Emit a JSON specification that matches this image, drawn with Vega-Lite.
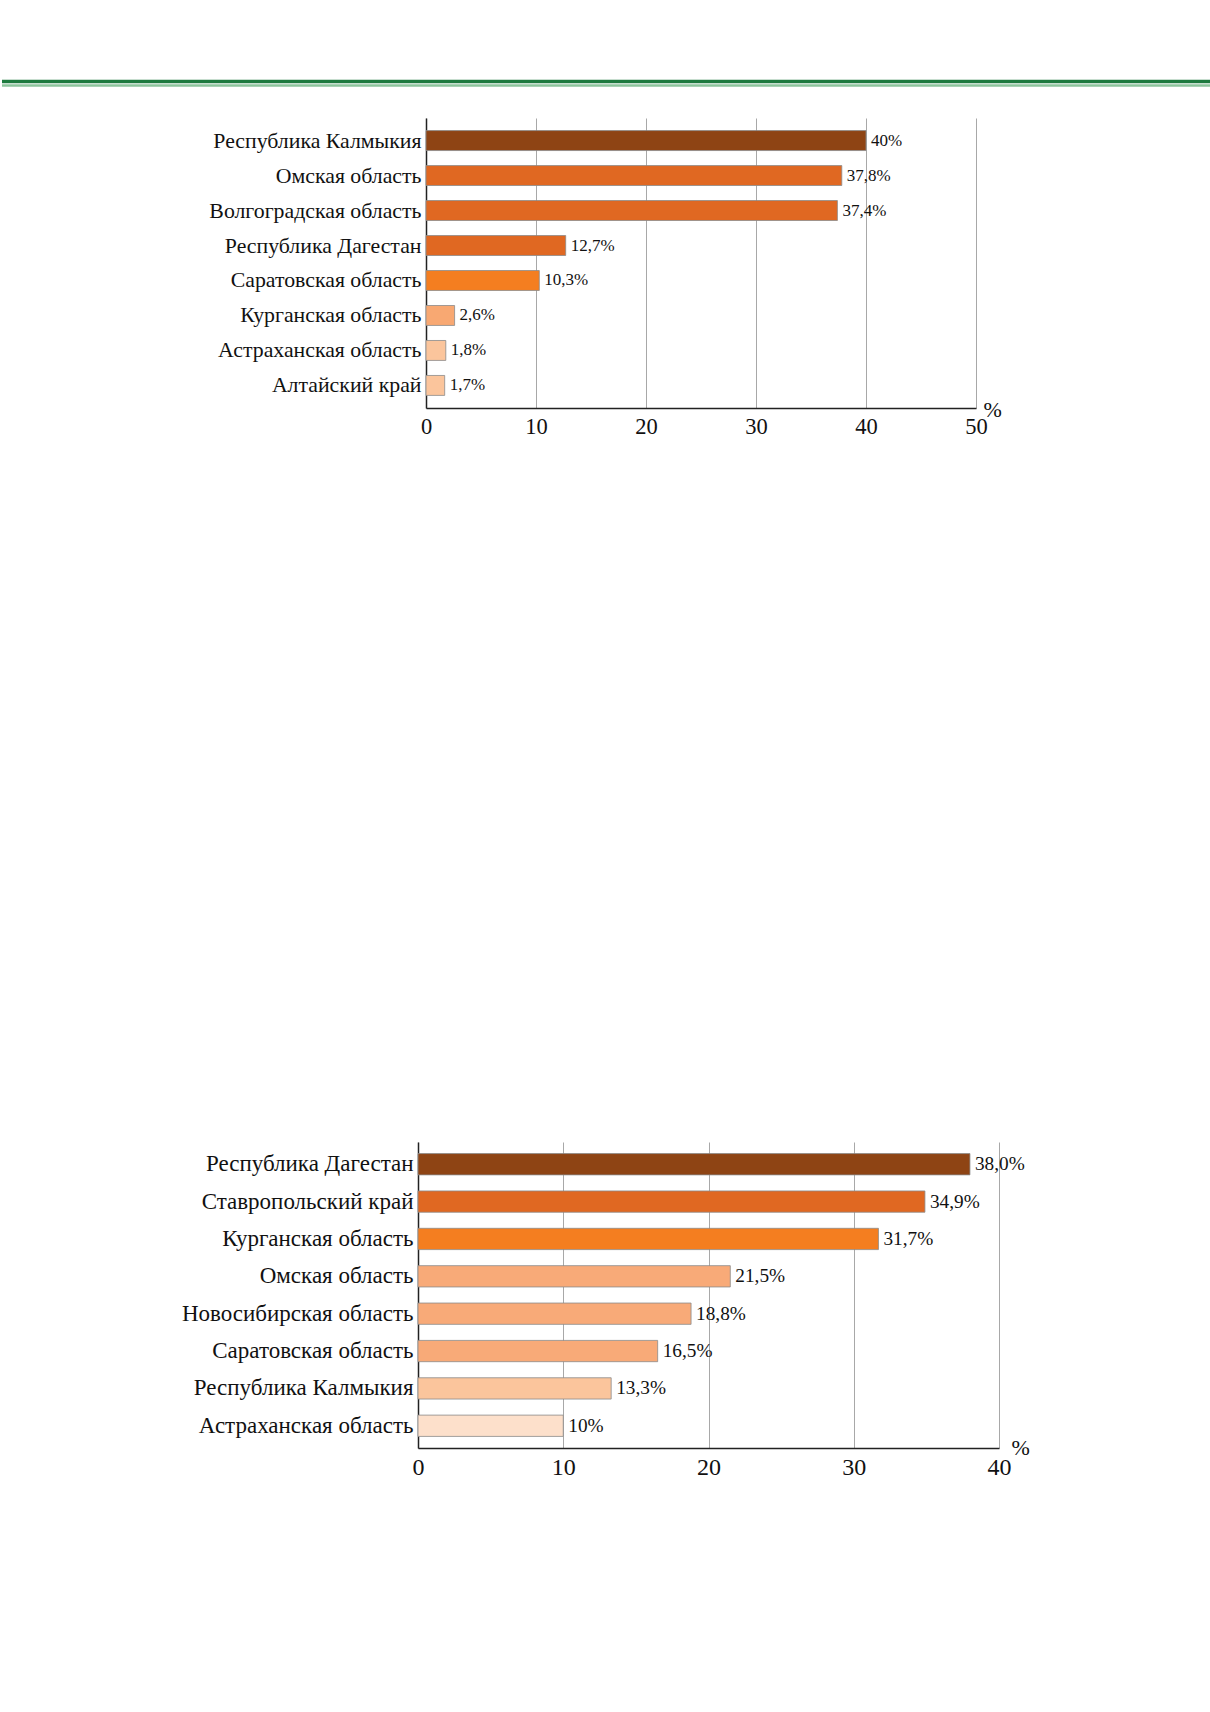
{
  "$schema": "https://vega.github.io/schema/vega-lite/v6.json",
  "padding": {"top": 78, "left": 0, "right": 0, "bottom": 0},
  "background": "white",
  "datasets": {
    "stripes": [
      {"line": "dark", "pos": 3.5},
      {"line": "light", "pos": 7.5}
    ],
    "chart1": [
      {"region": "Республика Калмыкия", "value": 40, "label": "40%"},
      {"region": "Омская область", "value": 37.8, "label": "37,8%"},
      {"region": "Волгоградская область", "value": 37.4, "label": "37,4%"},
      {"region": "Республика Дагестан", "value": 12.7, "label": "12,7%"},
      {"region": "Саратовская область", "value": 10.3, "label": "10,3%"},
      {"region": "Курганская область", "value": 2.6, "label": "2,6%"},
      {"region": "Астраханская область", "value": 1.8, "label": "1,8%"},
      {"region": "Алтайский край", "value": 1.7, "label": "1,7%"}
    ],
    "chart2": [
      {"region": "Республика Дагестан", "value": 38.0, "label": "38,0%"},
      {"region": "Ставропольский край", "value": 34.9, "label": "34,9%"},
      {"region": "Курганская область", "value": 31.7, "label": "31,7%"},
      {"region": "Омская область", "value": 21.5, "label": "21,5%"},
      {"region": "Новосибирская область", "value": 18.8, "label": "18,8%"},
      {"region": "Саратовская область", "value": 16.5, "label": "16,5%"},
      {"region": "Республика Калмыкия", "value": 13.3, "label": "13,3%"},
      {"region": "Астраханская область", "value": 10, "label": "10%"}
    ],
    "empty": []
  },
  "spacing": 30,
  "vconcat": [
    {
      "width": 1210,
      "height": 10,
      "data": {"name": "stripes"},
      "mark": {"type": "rule"},
      "encoding": {
        "y": {"field": "pos", "type": "quantitative", "scale": {"domain": [0, 10], "reverse": true}, "axis": null},
        "color": {"field": "line", "type": "nominal", "scale": {"domain": ["dark", "light"], "range": ["#1d7a3e", "#8cc49c"]}, "legend": null},
        "strokeWidth": {"field": "line", "type": "nominal", "scale": {"domain": ["dark", "light"], "range": [3.5, 2.5]}, "legend": null}
      }
    },
    {
      "spacing": 704,
      "resolve": {"scale": {"color": "independent", "x": "independent", "y": "independent"}},
      "vconcat": [
        {
          "spacing": 0,
          "hconcat": [
            {
              "width": 0,
              "height": 1,
              "data": {"name": "empty"},
              "mark": {"type": "point", "opacity": 0},
              "encoding": {}
            },
            {
              "width": 550,
              "height": 290,
              "data": {"name": "chart1"},
              "encoding": {
                "y": {
                  "field": "region", "type": "nominal", "sort": null, "title": null,
                  "scale": {"paddingInner": 0.43, "paddingOuter": 0.36},
                  "axis": {"minExtent": 404, "maxExtent": 404, "labelLimit": 0, "ticks": false, "labelPadding": 5, "labelFontSize": 21.8, "domainColor": "#222222", "domainWidth": 1.5, "grid": false}
                },
                "x": {
                  "field": "value", "type": "quantitative",
                  "scale": {"domain": [0, 50], "nice": false},
                  "axis": {
                    "values": [0, 10, 20, 30, 40, 50], "ticks": false, "labelFlush": false, "labelPadding": 7, "labelFontSize": 22.5, "grid": true,
                    "domainColor": "#222222", "domainWidth": 1.5, "gridColor": "#a8a8a8", "gridWidth": 1,
                    "title": "%", "titleX": 557, "titleY": 1, "titleAlign": "left", "titleBaseline": "middle", "titleAnchor": null
                  }
                }
              },
              "layer": [
                {
                  "mark": {"type": "bar", "stroke": "#8a8a8a", "strokeWidth": 0.8},
                  "encoding": {
                    "color": {
                      "field": "region", "type": "nominal", "legend": null,
                      "scale": {
                        "domain": ["Республика Калмыкия", "Омская область", "Волгоградская область", "Республика Дагестан", "Саратовская область", "Курганская область", "Астраханская область", "Алтайский край"],
                        "range": ["#8e4414", "#e06822", "#e06822", "#e06822", "#f47e20", "#f8a872", "#fbc59c", "#fbc59c"]
                      }
                    }
                  }
                },
                {
                  "mark": {"type": "text", "align": "left", "baseline": "middle", "dx": 5, "font": "Liberation Serif", "fontSize": 17, "color": "#111111"},
                  "encoding": {"text": {"field": "label"}}
                }
              ]
            }
          ]
        },
        {
          "spacing": 0,
          "hconcat": [
            {
              "width": 0,
              "height": 1,
              "data": {"name": "empty"},
              "mark": {"type": "point", "opacity": 0},
              "encoding": {}
            },
            {
              "width": 581,
              "height": 306,
              "data": {"name": "chart2"},
              "encoding": {
                "y": {
                  "field": "region", "type": "nominal", "sort": null, "title": null,
                  "scale": {"paddingInner": 0.43, "paddingOuter": 0.31},
                  "axis": {"minExtent": 396, "maxExtent": 396, "labelLimit": 0, "ticks": false, "labelPadding": 5, "labelFontSize": 23, "domainColor": "#222222", "domainWidth": 1.5, "grid": false}
                },
                "x": {
                  "field": "value", "type": "quantitative",
                  "scale": {"domain": [0, 40], "nice": false},
                  "axis": {
                    "values": [0, 10, 20, 30, 40], "ticks": false, "labelFlush": false, "labelPadding": 7, "labelFontSize": 24, "grid": true,
                    "domainColor": "#222222", "domainWidth": 1.5, "gridColor": "#a8a8a8", "gridWidth": 1,
                    "title": "%", "titleX": 593, "titleY": -1, "titleAlign": "left", "titleBaseline": "middle", "titleAnchor": null
                  }
                }
              },
              "layer": [
                {
                  "mark": {"type": "bar", "stroke": "#8a8a8a", "strokeWidth": 0.8},
                  "encoding": {
                    "color": {
                      "field": "region", "type": "nominal", "legend": null,
                      "scale": {
                        "domain": ["Республика Дагестан", "Ставропольский край", "Курганская область", "Омская область", "Новосибирская область", "Саратовская область", "Республика Калмыкия", "Астраханская область"],
                        "range": ["#8e4414", "#e06822", "#f47e20", "#f8aa78", "#f8aa78", "#f8aa78", "#fbc59c", "#fde0cb"]
                      }
                    }
                  }
                },
                {
                  "mark": {"type": "text", "align": "left", "baseline": "middle", "dx": 5, "font": "Liberation Serif", "fontSize": 19.3, "color": "#111111"},
                  "encoding": {"text": {"field": "label"}}
                }
              ]
            }
          ]
        }
      ]
    }
  ],
  "config": {
    "view": {"stroke": null},
    "axis": {
      "labelFont": "Liberation Serif",
      "labelColor": "#111111",
      "titleFont": "Liberation Serif",
      "titleFontSize": 22,
      "titleFontWeight": "normal",
      "titleColor": "#111111"
    }
  }
}
